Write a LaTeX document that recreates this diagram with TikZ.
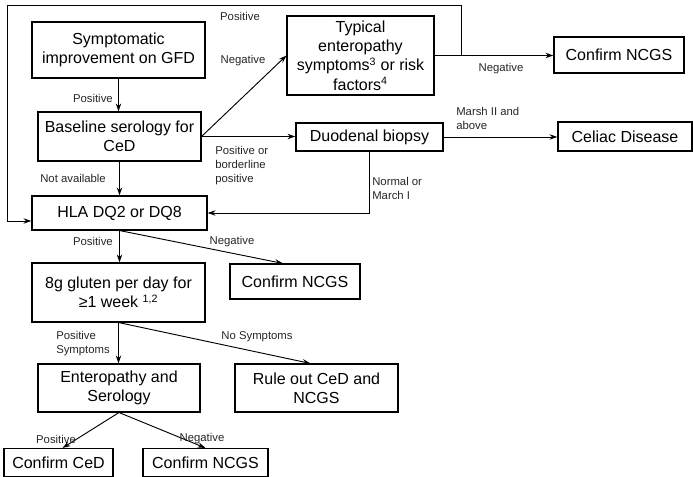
\documentclass[tikz,border=0pt]{standalone}
\usepackage{fontspec}
\setmainfont{Liberation Sans}
\usetikzlibrary{arrows.meta,calc}
\tikzset{
  sz/.style 2 args={minimum width=#1*0.75pt, minimum height=#2*0.75pt},
  box/.style={draw, line width=0.8pt, align=center, inner sep=0pt, font=\fontsize{12}{14.5}\selectfont},
  lab/.style={font=\fontsize{8.5}{10.5}\selectfont, inner sep=0pt, align=left, text=black!85},
  arr/.style={line width=0.7pt, -{Stealth[length=6pt,width=4pt]}}
}
\begin{document}
\begin{tikzpicture}[x=0.75pt,y=-0.75pt]
\useasboundingbox (0,0) rectangle (693,477);
% boxes
\node[box, sz={173}{56}] (symp) at (118.5,50) {Symptomatic\\improvement on GFD};
\node[box, sz={163}{49}] (base) at (119.5,136.5) {Baseline serology for\\CeD};
\node[box, sz={175}{34}] (hla) at (119.5,213) {HLA DQ2 or DQ8};
\node[box, sz={147}{79}] (typ) at (360.5,55.5) {Typical\\enteropathy\\symptoms\textsuperscript{3} or risk\\factors\textsuperscript{4}};
\node[box, sz={130}{36}] (ncgsA) at (619,55) {Confirm NCGS};
\node[box, sz={147}{28}] (duo) at (369.5,137) {Duodenal biopsy};
\node[box, sz={134}{29}] (cel) at (625,136.5) {Celiac Disease};
\node[box, sz={173}{59}] (glu) at (118.5,292.5) {8g gluten per day for\\≥1 week \textsuperscript{1,2}};
\node[box, sz={130}{35}] (ncgsB) at (295,281.5) {Confirm NCGS};
\node[box, sz={162}{48}] (ent) at (119,388) {Enteropathy and\\Serology};
\node[box, sz={163}{48}] (rule) at (316.5,388) {Rule out CeD and\\NCGS};
\node[box, sz={109}{28}] (ced) at (58.5,462.5) {Confirm CeD};
\node[box, sz={125}{28}] (ncgsC) at (205.5,462.5) {Confirm NCGS};
% connectors
\draw[arr] (symp.south) -- (symp.south |- base.north);
\draw[arr] (base.south) -- (base.south |- hla.north);
\draw[arr] (hla.south) -- (hla.south |- glu.north);
\draw[arr] (glu.south) -- (glu.south |- ent.north);
\draw[arr] (base.east) -- (typ.west);
\draw[arr] (base.east) -- (base.east -| duo.west);
\draw[arr] (typ.east) -- (typ.east -| ncgsA.west);
\coordinate (lp) at (461,55.5);
\coordinate (lc) at (7,5);
\coordinate (lin) at ($(hla.west)+(0,8)$);
\draw[arr] (lp) |- (lc) |- (lin);
\draw[arr] (duo.east) -- (duo.east -| cel.west);
\draw[arr] (duo.south) |- (hla.east);
\draw[arr] (hla.south) -- ($(ncgsB.north)+(-12,0)$);
\draw[arr] (glu.south) -- ($(rule.north)+(-6,0)$);
\draw[arr] (ent.south) -- ($(ced.north)+(4,0)$);
\draw[arr] (ent.south) -- (ncgsC.north);
% labels
\node[lab] (l1) at (240,16) {Positive};
\node[lab] (l2) at (243,61) {Negative};
\node[lab, anchor=east] (l3) at (113,98) {Positive};
\node[lab, anchor=west] (l4) at (215,166) {Positive or\\borderline\\positive};
\node[lab, anchor=west] (l5) at (40,178) {Not available};
\node[lab] (l6) at (501,69) {Negative};
\node[lab, anchor=west] (l7) at (456,118.5) {Marsh II and\\above};
\node[lab, anchor=west] (l8) at (372,188.5) {Normal or\\March I};
\node[lab, anchor=east] (l9) at (113,241) {Positive};
\node[lab] (l10) at (232,242) {Negative};
\node[lab, anchor=west] (l11) at (56,343.5) {Positive\\Symptoms};
\node[lab] (l12) at (257,337) {No Symptoms};
\node[lab] (l13) at (56,439) {Positive};
\node[lab] (l14) at (202,439) {Negative};
\end{tikzpicture}
\end{document}
